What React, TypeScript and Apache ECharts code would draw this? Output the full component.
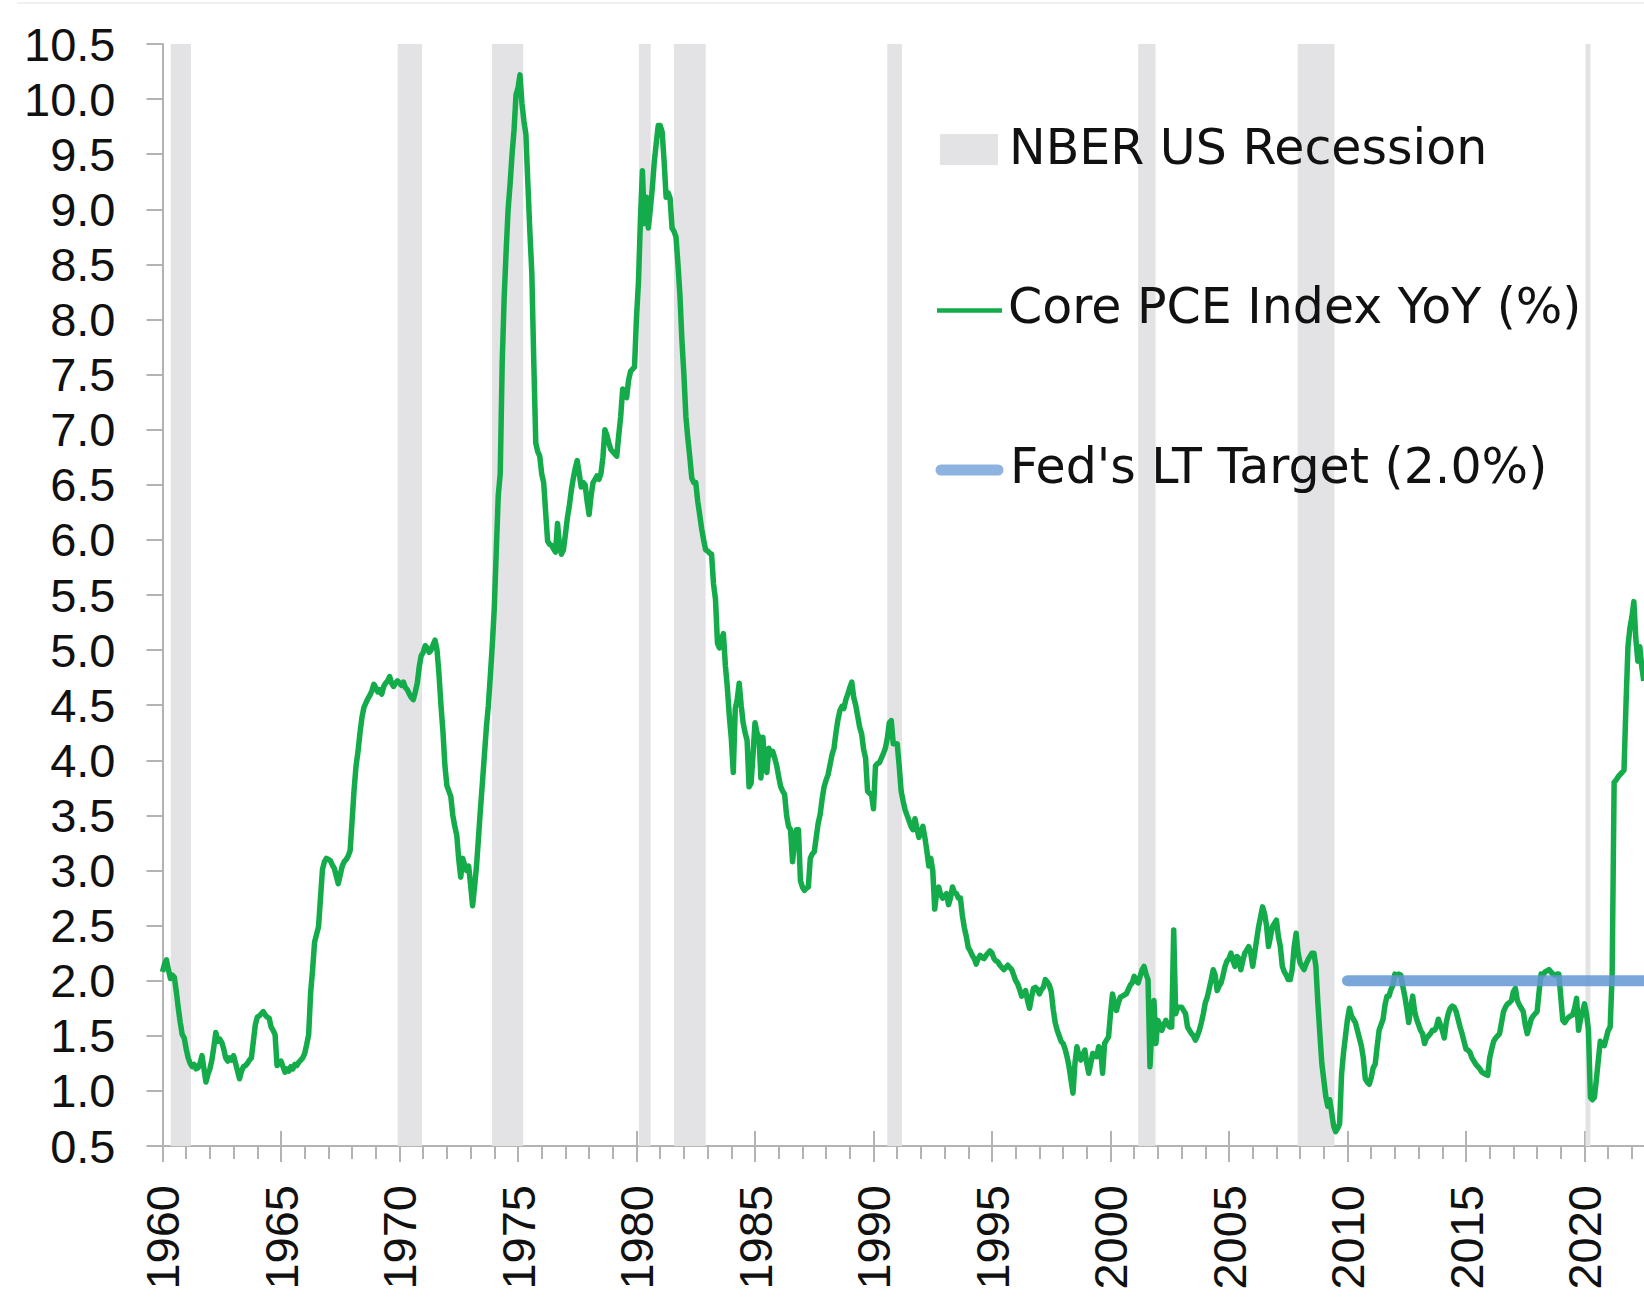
import React, { useEffect, useRef } from "react";
import * as echarts from "echarts";

// NBER US recession periods (decimal years)
const recessions: [number, number][] = [
  [1960.35, 1961.2],
  [1969.92, 1970.95],
  [1973.9, 1975.22],
  [1980.1, 1980.6],
  [1981.58, 1982.92],
  [1990.58, 1991.2],
  [2001.17, 2001.9],
  [2007.9, 2009.45],
  [2020.04, 2020.25],
];

// Core PCE Index YoY (%), monthly
const core1960s = [
  2.08, 2.15, 2.19, 2.10, 2.02, 2.05, 2.03, 1.90, 1.75, 1.62, 1.51, 1.48,
  1.38, 1.30, 1.25, 1.22, 1.24, 1.20, 1.21, 1.25, 1.32, 1.20, 1.08, 1.15,
  1.20, 1.28, 1.40, 1.53, 1.45, 1.47, 1.44, 1.38, 1.30, 1.27, 1.30, 1.28,
  1.32, 1.25, 1.18, 1.11, 1.18, 1.22, 1.23, 1.25, 1.28, 1.30, 1.45, 1.60,
  1.67, 1.68, 1.70, 1.72, 1.69, 1.67, 1.66, 1.58, 1.55, 1.51, 1.23, 1.25,
  1.27, 1.22, 1.17, 1.20, 1.18, 1.22, 1.20, 1.24, 1.23, 1.26, 1.28, 1.30,
  1.34, 1.42, 1.51, 1.89, 2.10, 2.35, 2.42, 2.49, 2.75, 3.01, 3.08, 3.11,
  3.10, 3.09, 3.05, 3.02, 2.95, 2.88, 2.96, 3.04, 3.08, 3.10, 3.13, 3.18,
  3.45, 3.73, 3.95, 4.08, 4.25, 4.39, 4.48, 4.52, 4.56, 4.59, 4.63, 4.69,
  4.66, 4.62, 4.64, 4.60, 4.67, 4.70, 4.72, 4.76, 4.70, 4.67, 4.70, 4.72,
];
const core1970s = [
  4.70, 4.68, 4.71, 4.66, 4.64, 4.60, 4.57, 4.55, 4.62, 4.70, 4.85, 4.95,
  4.98, 5.04, 5.02, 4.98, 5.00, 5.05, 5.09, 5.00, 4.78, 4.50, 4.26, 3.95,
  3.77, 3.72, 3.67, 3.50, 3.40, 3.32, 3.10, 2.94, 3.11, 3.05, 3.00, 3.04,
  2.87, 2.68, 2.85, 3.04, 3.30, 3.56, 3.80, 4.05, 4.30, 4.50, 4.77, 5.05,
  5.38, 5.90, 6.40, 6.60, 7.61, 8.20, 8.62, 9.00, 9.23, 9.50, 9.72, 10.04,
  10.10, 10.22, 9.96, 9.80, 9.68, 9.23, 8.80, 8.42, 7.61, 6.88, 6.80, 6.76,
  6.60, 6.52, 6.25, 5.99, 5.96, 5.95, 5.92, 5.89, 6.15, 5.95, 5.87, 5.91,
  6.05, 6.20, 6.31, 6.45, 6.56, 6.65, 6.72, 6.60, 6.48, 6.52, 6.50, 6.35,
  6.23, 6.40, 6.52, 6.55, 6.58, 6.55, 6.60, 6.75, 7.00, 6.95, 6.88, 6.82,
  6.80, 6.78, 6.76, 6.95, 7.12, 7.37, 7.33, 7.29, 7.45, 7.53, 7.55, 7.57,
];
const core1980s = [
  8.02, 8.34, 8.91, 9.35, 8.87, 9.11, 8.83, 9.00, 9.19, 9.43, 9.60, 9.76,
  9.76, 9.70, 9.43, 9.11, 9.15, 9.10, 8.83, 8.80, 8.75, 8.50, 8.22, 7.81,
  7.50, 7.12, 6.92, 6.75, 6.56, 6.52, 6.52, 6.35, 6.23, 6.10, 6.00, 5.91,
  5.90, 5.88, 5.87, 5.60, 5.46, 5.06, 5.02, 5.10, 5.15, 4.86, 4.66, 4.40,
  4.20, 3.89, 4.47, 4.55, 4.70, 4.50, 4.34, 4.25, 4.18, 3.76, 3.79, 4.05,
  4.34, 4.25, 4.21, 3.84, 4.21, 3.95, 3.89, 4.11, 4.05, 4.08, 4.02, 3.95,
  3.85, 3.76, 3.72, 3.69, 3.50, 3.40, 3.37, 3.08, 3.25, 3.37, 3.37, 2.91,
  2.85, 2.82, 2.84, 2.85, 3.11, 3.15, 3.17, 3.30, 3.43, 3.51, 3.65, 3.76,
  3.82, 3.87, 3.96, 4.05, 4.11, 4.25, 4.37, 4.45, 4.49, 4.47, 4.55, 4.60,
  4.66, 4.71, 4.57, 4.50, 4.40, 4.30, 4.24, 4.10, 4.02, 3.72, 3.70, 3.69,
];
const core1990s = [
  3.56, 3.95, 3.97, 3.98, 4.02, 4.06, 4.11, 4.20, 4.34, 4.36, 4.15, 4.15,
  4.15, 3.95, 3.72, 3.63, 3.55, 3.50, 3.45, 3.40, 3.37, 3.47, 3.38, 3.30,
  3.35, 3.40, 3.30, 3.18, 3.04, 3.11, 3.00, 2.65, 2.80, 2.85, 2.78, 2.75,
  2.77, 2.79, 2.69, 2.75, 2.85, 2.80, 2.79, 2.75, 2.75, 2.59, 2.48, 2.40,
  2.30, 2.27, 2.23, 2.20, 2.15, 2.20, 2.23, 2.21, 2.20, 2.23, 2.25, 2.27,
  2.25, 2.20, 2.18, 2.17, 2.14, 2.12, 2.10, 2.12, 2.14, 2.12, 2.10, 2.05,
  2.00, 1.97, 1.92, 1.86, 1.88, 1.91, 1.82, 1.75, 1.85, 1.93, 1.94, 1.92,
  1.88, 1.92, 1.94, 2.01, 1.99, 1.96, 1.90, 1.74, 1.62, 1.55, 1.50, 1.45,
  1.43, 1.38, 1.31, 1.22, 1.10, 0.98, 1.25, 1.40, 1.32, 1.28, 1.33, 1.37,
  1.25, 1.16, 1.25, 1.34, 1.32, 1.31, 1.40, 1.38, 1.16, 1.43, 1.46, 1.49,
];
const core2000s = [
  1.70, 1.88, 1.80, 1.73, 1.80, 1.85, 1.86, 1.87, 1.88, 1.92, 1.96, 1.98,
  2.04, 2.00, 1.98, 2.04, 2.10, 2.13, 2.06, 2.01, 1.22, 1.60, 1.82, 1.43,
  1.64, 1.60, 1.55, 1.60, 1.64, 1.60, 1.58, 1.58, 2.46, 1.70, 1.76, 1.76,
  1.76, 1.73, 1.70, 1.58, 1.55, 1.52, 1.50, 1.46, 1.50, 1.55, 1.62, 1.70,
  1.80, 1.85, 1.93, 2.01, 2.10, 2.05, 1.91, 1.95, 1.98, 2.05, 2.13, 2.18,
  2.20, 2.25, 2.18, 2.13, 2.22, 2.20, 2.10, 2.18, 2.25, 2.28, 2.31, 2.25,
  2.13, 2.25, 2.37, 2.49, 2.58, 2.67, 2.61, 2.50, 2.31, 2.40, 2.49, 2.52,
  2.55, 2.40, 2.31, 2.13, 2.08, 2.05, 2.01, 2.01, 2.10, 2.31, 2.43, 2.25,
  2.16, 2.13, 2.10, 2.15, 2.19, 2.22, 2.25, 2.25, 2.13, 1.80, 1.52, 1.25,
  1.10, 0.95, 0.86, 0.92, 0.80, 0.68, 0.63, 0.66, 0.70, 1.15, 1.35, 1.50,
];
const core2010s = [
  1.65, 1.75, 1.68, 1.65, 1.62, 1.55, 1.48, 1.41, 1.30, 1.11, 1.08, 1.06,
  1.12, 1.21, 1.24, 1.40, 1.55, 1.60, 1.65, 1.78, 1.86, 1.86, 1.92, 1.96,
  2.06, 2.05, 2.06, 2.05, 1.95, 1.86, 1.75, 1.62, 1.75, 1.86, 1.72, 1.65,
  1.60, 1.55, 1.52, 1.43, 1.48, 1.50, 1.52, 1.55, 1.55, 1.58, 1.65, 1.60,
  1.55, 1.48, 1.62, 1.70, 1.75, 1.77, 1.76, 1.72, 1.65, 1.58, 1.52, 1.45,
  1.38, 1.37, 1.35, 1.30, 1.27, 1.24, 1.22, 1.20, 1.17, 1.16, 1.15, 1.14,
  1.30, 1.38, 1.45, 1.48, 1.50, 1.52, 1.62, 1.72, 1.76, 1.79, 1.80, 1.82,
  1.90, 1.93, 1.82, 1.78, 1.75, 1.72, 1.60, 1.52, 1.58, 1.65, 1.68, 1.70,
  1.72, 1.90, 2.06, 2.05, 2.08, 2.09, 2.10, 2.08, 2.06, 2.05, 2.06, 2.06,
  1.85, 1.64, 1.62, 1.65, 1.67, 1.68, 1.69, 1.75, 1.84, 1.55, 1.65, 1.72,
];
const core2020s = [
  1.79, 1.70, 1.55, 0.94, 0.92, 0.94, 1.10, 1.28, 1.45, 1.42, 1.41, 1.48,
  1.55, 1.58, 2.06, 3.80, 3.82, 3.85, 3.87, 3.89, 3.91, 4.50, 5.03, 5.20,
  5.30, 5.44, 5.10, 4.90, 5.03, 4.85, 4.72,
];

const decades: [number, number[]][] = [
  [1960, core1960s],
  [1970, core1970s],
  [1980, core1980s],
  [1990, core1990s],
  [2000, core2000s],
  [2010, core2010s],
  [2020, core2020s],
];

// Fed's long-term target
const fedTarget: [number, number][] = [
  [2010, 2.0],
  [2025, 2.0],
];

const yMin = 0.5;
const yMax = 10.5;
const yStep = 0.5;
const xMin = 1960;
const xMax = 2025;
const xStep = 5;
const lastYearLabel = 2020;

const legendLabels = [
  "NBER US Recession",
  "Core PCE Index YoY (%)",
  "Fed's LT Target (2.0%)",
];

const GREEN = "#14ab4a";
const BLUE = "rgba(99,150,212,0.85)";
const GREY = "#e3e3e5";
const AXIS = "#b3b3b3";

export default function App() {
  const ref = useRef<HTMLDivElement>(null);

  useEffect(() => {
    if (!ref.current) return;
    const chart = echarts.init(ref.current, undefined, { renderer: "svg" });

    const coreData: [number, number][] = [];
    decades.forEach(([start, vals]) => {
      vals.forEach((v, i) => coreData.push([start + i / 12, v]));
    });

    const axisFont = "'Liberation Sans', Arial, sans-serif";
    const legendFont = "'DejaVu Sans', sans-serif";

    chart.setOption({
      animation: false,
      backgroundColor: "#ffffff",
      grid: { left: 162.5, top: 44, bottom: 159, right: 47, containLabel: false },
      xAxis: [
        {
          type: "value",
          min: xMin,
          max: xMax,
          interval: xStep,
          position: "bottom",
          axisLine: { show: true, lineStyle: { color: AXIS, width: 2 } },
          axisTick: { show: true, inside: false, length: 16, lineStyle: { color: AXIS, width: 2 } },
          minorTick: { show: true, splitNumber: 5, length: 13, lineStyle: { color: AXIS, width: 2 } },
          splitLine: { show: false },
          minorSplitLine: { show: false },
          axisLabel: {
            rotate: 90,
            margin: 39,
            color: "#111",
            fontSize: 47,
            fontFamily: axisFont,
            formatter: (v: number) => (v > lastYearLabel ? "" : String(Math.round(v))),
          },
        },
        {
          type: "value",
          min: xMin,
          max: xMax,
          interval: xStep,
          position: "bottom",
          axisLine: { show: false },
          axisTick: { show: true, inside: true, length: 15, lineStyle: { color: AXIS, width: 2 } },
          axisLabel: { show: false },
          splitLine: { show: false },
        },
      ],
      yAxis: {
        type: "value",
        min: yMin,
        max: yMax,
        interval: yStep,
        axisLine: { show: true, lineStyle: { color: AXIS, width: 2 } },
        axisTick: { show: true, inside: false, length: 16, lineStyle: { color: AXIS, width: 2 } },
        splitLine: { show: false },
        axisLabel: {
          margin: 47,
          color: "#111",
          fontSize: 47,
          fontFamily: axisFont,
          padding: [0, 0, 6, 0],
          formatter: (v: number) => v.toFixed(1),
        },
      },
      series: [
        {
          name: legendLabels[0],
          type: "line",
          data: [],
          z: 1,
          silent: true,
          markArea: {
            silent: true,
            itemStyle: { color: GREY },
            data: recessions.map(([a, b]) => [{ xAxis: a }, { xAxis: b }]),
          },
        },
        {
          name: legendLabels[1],
          type: "line",
          data: coreData,
          symbol: "none",
          z: 3,
          lineStyle: { color: GREEN, width: 5.5, join: "round" },
        },
        {
          name: legendLabels[2],
          type: "line",
          data: fedTarget,
          symbol: "none",
          z: 4,
          lineStyle: { color: BLUE, width: 11, cap: "round" },
        },
      ],
      graphic: {
        elements: [
          {
            type: "line",
            z: 100,
            shape: { x1: 17, y1: 3, x2: 1700, y2: 3 },
            style: { stroke: "#ebebeb", lineWidth: 1.5 },
          },
          {
            type: "rect",
            z: 100,
            shape: { x: 940, y: 134, width: 58, height: 31 },
            style: { fill: GREY },
          },
          {
            type: "text",
            z: 100,
            x: 1009,
            y: 147,
            style: {
              text: legendLabels[0],
              font: `49px ${legendFont}`,
              fill: "#111",
              verticalAlign: "middle",
            },
          },
          {
            type: "line",
            z: 100,
            shape: { x1: 937, y1: 310.5, x2: 1002, y2: 310.5 },
            style: { stroke: GREEN, lineWidth: 4.5 },
          },
          {
            type: "text",
            z: 100,
            x: 1008,
            y: 306,
            style: {
              text: legendLabels[1],
              font: `49px ${legendFont}`,
              fill: "#111",
              verticalAlign: "middle",
            },
          },
          {
            type: "line",
            z: 100,
            shape: { x1: 941, y1: 470, x2: 998, y2: 470 },
            style: { stroke: "#8fb3e0", lineWidth: 11, lineCap: "round" },
          },
          {
            type: "text",
            z: 100,
            x: 1010,
            y: 466,
            style: {
              text: legendLabels[2],
              font: `49px ${legendFont}`,
              fill: "#111",
              verticalAlign: "middle",
            },
          },
        ],
      },
    });

    return () => chart.dispose();
  }, []);

  return (
    <div
      style={{
        position: "fixed",
        left: 0,
        top: 0,
        width: 1644,
        height: 1305,
        overflow: "hidden",
        background: "#fff",
      }}
    >
      <div ref={ref} style={{ width: 1750, height: 1305 }} />
    </div>
  );
}
